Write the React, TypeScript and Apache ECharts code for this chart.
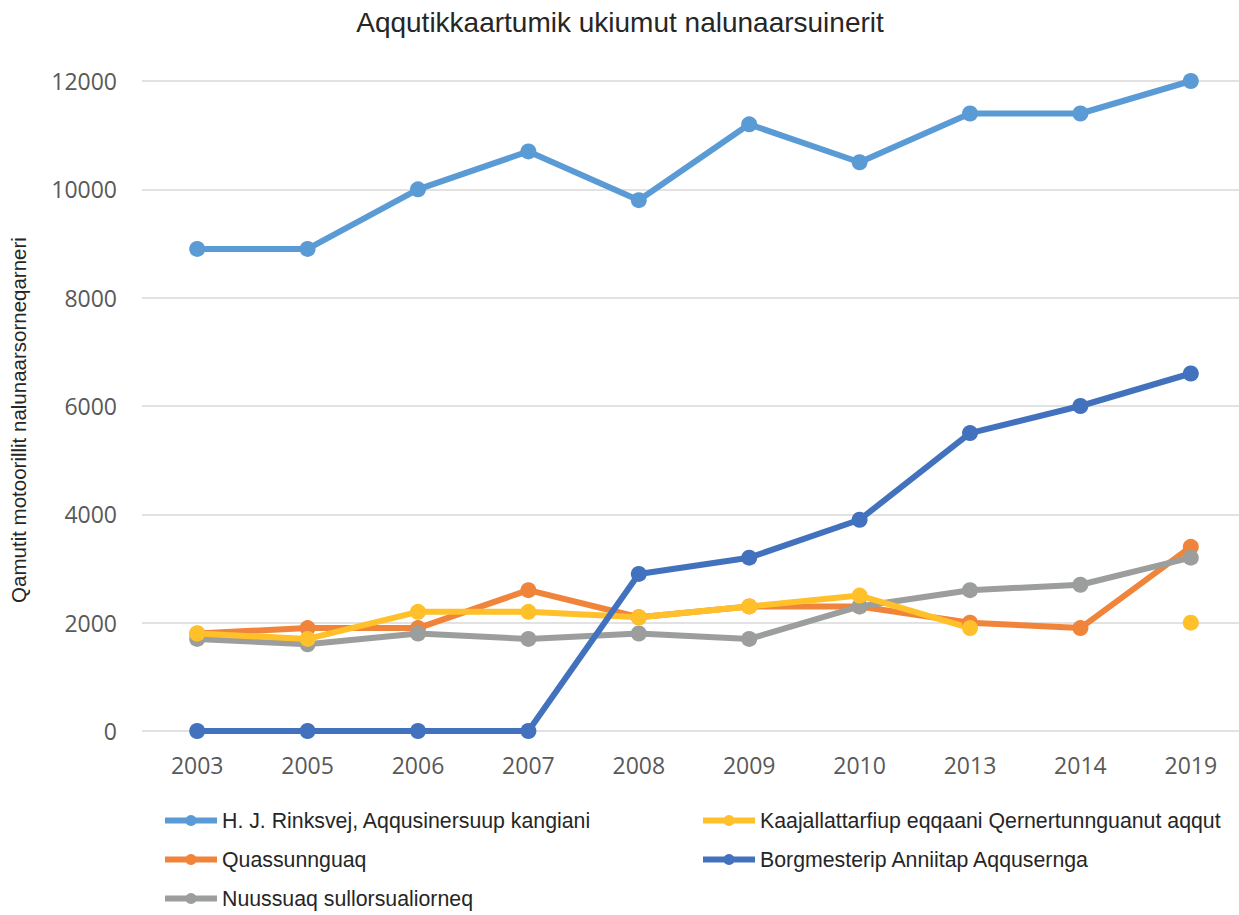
import React, { useEffect, useRef } from "react";
import * as echarts from "echarts";

const years = ["2003", "2005", "2006", "2007", "2008", "2009", "2010", "2013", "2014", "2019"];
const rinksvej = [8900, 8900, 10000, 10700, 9800, 11200, 10500, 11400, 11400, 12000];
const kaajallattarfiup = [1800, 1700, 2200, 2200, 2100, 2300, 2500, 1900, null, 2000];
const quassunnguaq = [1800, 1900, 1900, 2600, 2100, 2300, 2300, 2000, 1900, 3400];
const borgmesterip = [0, 0, 0, 0, 2900, 3200, 3900, 5500, 6000, 6600];
const nuussuaq = [1700, 1600, 1800, 1700, 1800, 1700, 2300, 2600, 2700, 3200];

const names = {
  a: "H. J. Rinksvej, Aqqusinersuup kangiani",
  b: "Kaajallattarfiup eqqaani Qernertunnguanut aqqut",
  c: "Quassunnguaq",
  d: "Borgmesterip Anniitap Aqqusernga",
  e: "Nuussuaq sullorsualiorneq",
};

const colors = {
  a: "#5B9BD5",
  b: "#FFC02A",
  c: "#F0843A",
  d: "#4272BE",
  e: "#9C9E9E",
};

export default function App() {
  const ref = useRef<HTMLDivElement>(null);
  useEffect(() => {
    if (!ref.current) return;
    const chart = echarts.init(ref.current, undefined, { renderer: "svg" });
    const mk = (key: keyof typeof names, data: (number | null)[]) => ({
      name: names[key],
      type: "line",
      data,
      symbol: "circle",
      symbolSize: 16,
      showSymbol: true,
      connectNulls: false,
      lineStyle: { width: 6, color: colors[key] },
      itemStyle: { color: colors[key] },
    });
    const legendCommon = {
      orient: "vertical",
      itemWidth: 52,
      itemHeight: 14,
      itemGap: 18,
      lineStyle: { width: 6 },
      textStyle: { fontFamily: "Liberation Sans", fontSize: 21.3, color: "#262626" },
      padding: 0,
    };
    chart.setOption({
      animation: false,
      grid: { left: 142, top: 81, width: 1104, height: 650 },
      legend: [
        { ...legendCommon, left: 162, top: 810, data: [names.a, names.c, names.e] },
        { ...legendCommon, left: 700, top: 810, data: [names.b, names.d] },
      ],
      xAxis: {
        type: "category",
        data: years,
        boundaryGap: true,
        axisLine: { show: false },
        axisTick: { show: false },
        axisLabel: { fontFamily: "Open Sans", fontSize: 23, color: "#595959", margin: 22 },
      },
      yAxis: {
        type: "value",
        min: 0,
        max: 12000,
        interval: 2000,
        axisLine: { show: false },
        axisTick: { show: false },
        axisLabel: {
          fontFamily: "Open Sans",
          fontSize: 23,
          color: "#595959",
          margin: 25,
          formatter: (v: number) => String(v),
        },
        splitLine: { lineStyle: { color: "#D9D9D9", width: 1.5 } },
      },
      graphic: [
        {
          type: "text",
          x: 620,
          y: 22,
          style: {
            text: "Aqqutikkaartumik ukiumut nalunaarsuinerit",
            fontFamily: "Liberation Sans",
            fontSize: 28,
            fill: "#262626",
            textAlign: "center",
            textVerticalAlign: "middle",
          },
        },
        {
          type: "text",
          x: 18,
          y: 420,
          rotation: Math.PI / 2,
          style: {
            text: "Qamutit motoorillit nalunaarsorneqarneri",
            fontFamily: "Liberation Sans",
            fontSize: 20.5,
            fill: "#262626",
            textAlign: "center",
            textVerticalAlign: "middle",
          },
        },
      ],
      series: [
        mk("a", rinksvej),
        mk("c", quassunnguaq),
        mk("e", nuussuaq),
        mk("b", kaajallattarfiup),
        mk("d", borgmesterip),
      ],
    });
    return () => chart.dispose();
  }, []);
  return (
    <div
      ref={ref}
      style={{ position: "fixed", left: 0, top: 0, width: 1260, height: 915, background: "#fff" }}
    />
  );
}
